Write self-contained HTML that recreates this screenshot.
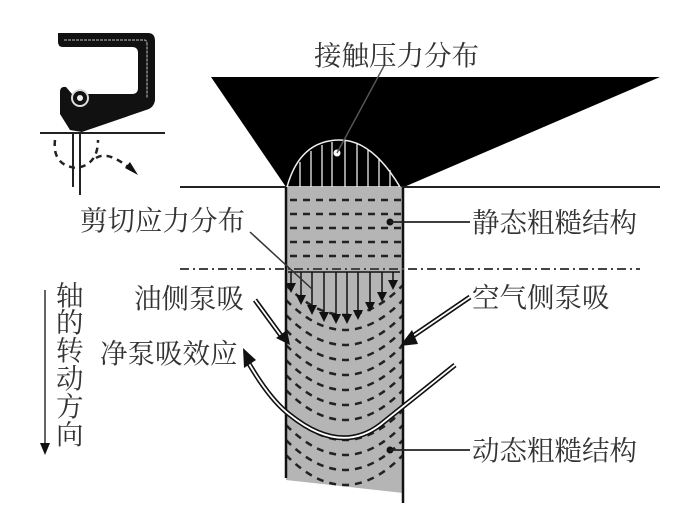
<!DOCTYPE html>
<html><head><meta charset="utf-8"><style>
html,body{margin:0;padding:0;background:#fff;}
svg{display:block;}
text{font-family:"Liberation Serif","Noto Serif CJK SC","Noto Sans CJK SC",serif;fill:#333;font-size:27.5px;}
</style></head><body>
<svg width="700" height="516" viewBox="0 0 700 516" xmlns="http://www.w3.org/2000/svg">
<defs>
<clipPath id="col"><polygon points="286,187 403,187 403,493 286,480"/></clipPath>
<marker id="ah" markerWidth="10" markerHeight="10" refX="8" refY="5" orient="auto" markerUnits="userSpaceOnUse"><path d="M0,0 L10,5 L0,10 Z" fill="#111"/></marker>
</defs>
<!-- seal icon -->
<path d="M58,33 H148 Q155,33 155,41 V100 Q154,108 146,110 L82,132 L70,130 L60,114 V92 Q60,86 66,87 L72,94 H132 Q138,94 138,88 V53 Q138,47 132,47 H63 Q58,47 58,42 Z" fill="#111"/>
<path d="M64,40 H144 Q147,40 147,44 V98" fill="none" stroke="#888" stroke-width="1.5" stroke-dasharray="3,1"/>
<circle cx="80" cy="98" r="8" fill="#111" stroke="#ddd" stroke-width="2"/>
<circle cx="80" cy="98" r="3" fill="#eee"/>
<line x1="40" y1="133" x2="165" y2="133" stroke="#222" stroke-width="2"/>
<line x1="73" y1="133" x2="73" y2="187" stroke="#222" stroke-width="2"/>
<line x1="80" y1="133" x2="80" y2="195" stroke="#222" stroke-width="2"/>
<path d="M55,140 Q52,165 76,168 Q98,165 98,140" fill="none" stroke="#222" stroke-width="2.5" stroke-dasharray="6,5"/>
<path d="M96,158 Q108,150 132,170" fill="none" stroke="#222" stroke-width="2.5" stroke-dasharray="6,5"/>
<path d="M125,168 L138,175 L130,162 Z" fill="#111"/>
<!-- black triangle -->
<polygon points="211,77 660,77 404,187 286,187" fill="#000"/>
<line x1="180" y1="187" x2="660" y2="187" stroke="#222" stroke-width="2"/>
<!-- pressure bump -->
<path d="M287,187 Q300,140 340,140 Q372,140 400,187 Z" fill="#000" stroke="#eee" stroke-width="1.5"/>
<g stroke="#eee" stroke-width="1.3">
<line x1="300" y1="162" x2="300" y2="187"/><line x1="311" y1="151" x2="311" y2="187"/><line x1="322" y1="145" x2="322" y2="187"/><line x1="332" y1="142" x2="332" y2="187"/><line x1="345" y1="141" x2="345" y2="187"/><line x1="357" y1="144" x2="357" y2="187"/><line x1="368" y1="150" x2="368" y2="187"/><line x1="379" y1="158" x2="379" y2="187"/><line x1="390" y1="170" x2="390" y2="187"/>
</g>
<circle cx="337" cy="153" r="3.5" fill="#fff"/>
<line x1="337" y1="153" x2="385" y2="64" stroke="#555" stroke-width="1.5"/>
<!-- column -->
<polygon points="286,187 403,187 403,493 286,480" fill="#b5b5b5"/>
<g clip-path="url(#col)" stroke="#222" stroke-width="2.5" fill="none" stroke-dasharray="7,6">
<line x1="290" y1="200" x2="403" y2="200"/><line x1="290" y1="214" x2="403" y2="214"/><line x1="290" y1="228" x2="403" y2="228"/><line x1="290" y1="242" x2="403" y2="242"/><line x1="290" y1="256" x2="403" y2="256"/>
<path d="M286,285 Q345,345 403,285"/>
<path d="M286,300 Q345,360 403,300"/>
<path d="M286,315 Q345,375 403,315"/>
<path d="M286,330 Q345,390 403,330"/>
<path d="M286,345 Q345,405 403,345"/>
<path d="M286,360 Q345,420 403,360"/>
<path d="M286,375 Q345,435 403,375"/>
<path d="M286,390 Q345,450 403,390"/>
<path d="M286,410 Q345,470 403,410"/>
<path d="M286,425 Q345,485 403,425"/>
<path d="M286,440 Q345,500 403,440"/>
<path d="M286,455 Q345,515 403,455"/>
</g>
<line x1="286" y1="187" x2="286" y2="478" stroke="#111" stroke-width="2.5"/>
<line x1="403" y1="187" x2="403" y2="503" stroke="#111" stroke-width="2.5"/>
<!-- dash-dot line -->
<line x1="180" y1="269" x2="640" y2="269" stroke="#444" stroke-width="2" stroke-dasharray="9,4,2,4"/>
<!-- shear arrows -->
<line x1="288" y1="272" x2="400" y2="272" stroke="#111" stroke-width="1.5"/>
<g stroke="#111" stroke-width="1.5" marker-end="url(#ah)">
<line x1="291" y1="272" x2="291" y2="291"/><line x1="301" y1="272" x2="301" y2="303"/><line x1="312" y1="272" x2="312" y2="313"/><line x1="324" y1="272" x2="324" y2="320"/><line x1="336" y1="272" x2="336" y2="322"/><line x1="347" y1="272" x2="347" y2="322"/><line x1="358" y1="272" x2="358" y2="318"/><line x1="370" y1="272" x2="370" y2="310"/><line x1="382" y1="272" x2="382" y2="300"/><line x1="393" y1="272" x2="393" y2="288"/>
</g>
<!-- double-line arrows -->
<g fill="none" stroke="#111" stroke-width="5"><path d="M255,300 L282,337"/><path d="M470,297 L410,338"/><path d="M248,362 Q270,400 290,415 Q340,455 380,425 Q430,385 455,365"/></g>
<g fill="none" stroke="#fff" stroke-width="1.8"><path d="M255,300 L282,337"/><path d="M470,297 L410,338"/><path d="M248,362 Q270,400 290,415 Q340,455 380,425 Q430,385 455,365"/></g>
<path d="M276,338 L290,345 L287,330 Z" fill="#111"/>
<path d="M412,330 L400,346 L418,344 Z" fill="#111"/>
<path d="M243,348 L244,368 L256,360 Z" fill="#111"/>
<!-- leaders -->
<line x1="250" y1="232" x2="312" y2="289" stroke="#333" stroke-width="1.5"/>
<circle cx="390" cy="222" r="3.5" fill="#111"/><line x1="390" y1="222" x2="470" y2="222" stroke="#222" stroke-width="1.8"/>
<circle cx="390" cy="450" r="3.5" fill="#111"/><line x1="390" y1="450" x2="470" y2="450" stroke="#222" stroke-width="1.8"/>
<!-- rotation arrow -->
<line x1="45" y1="290" x2="45" y2="445" stroke="#333" stroke-width="1.5"/>
<path d="M40,443 L50,443 L45,455 Z" fill="#111"/>
<!-- text -->
<text x="314" y="65">接触压力分布</text>
<text x="80" y="230">剪切应力分布</text>
<text x="472" y="232">静态粗糙结构</text>
<text x="134" y="308">油侧泵吸</text>
<text x="472" y="307">空气侧泵吸</text>
<text x="100" y="363">净泵吸效应</text>
<text x="472" y="460">动态粗糙结构</text>
<g><text x="56" y="305">轴</text><text x="56" y="332">的</text><text x="56" y="360">转</text><text x="56" y="388">动</text><text x="56" y="416">方</text><text x="56" y="444">向</text></g>
</svg>
</body></html>
